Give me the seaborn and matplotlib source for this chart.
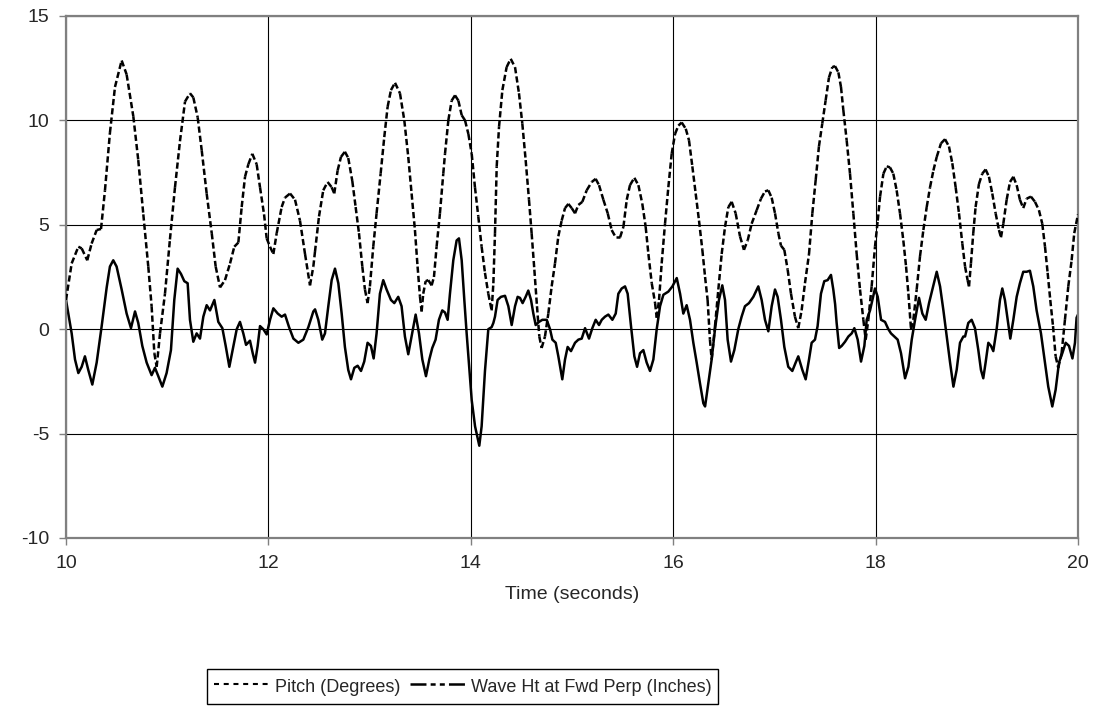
import numpy as np
import matplotlib
matplotlib.use("Agg")
import matplotlib.pyplot as plt
import seaborn as sns
from matplotlib.collections import LineCollection
from matplotlib.lines import Line2D

# ---- data -----------------------------------------------------------------
pitch_time = [
    10.000, 10.056, 10.122, 10.155, 10.210, 10.253, 10.303, 10.346, 10.385, 10.434,
    10.484, 10.550, 10.599, 10.665, 10.714, 10.764, 10.813, 10.846, 10.873, 10.896,
    10.929, 10.978, 11.027, 11.077, 11.126, 11.176, 11.225, 11.258, 11.301, 11.341,
    11.390, 11.440, 11.479, 11.522, 11.571, 11.621, 11.663, 11.703, 11.736, 11.769,
    11.802, 11.841, 11.884, 11.917, 11.957, 11.983, 12.016, 12.049, 12.082, 12.131,
    12.164, 12.214, 12.263, 12.312, 12.362, 12.411, 12.444, 12.460, 12.500, 12.542,
    12.585, 12.625, 12.651, 12.684, 12.717, 12.756, 12.789, 12.829, 12.862, 12.895,
    12.928, 12.954, 12.980, 13.003, 13.036, 13.069, 13.109, 13.145, 13.178, 13.211,
    13.251, 13.300, 13.343, 13.382, 13.415, 13.448, 13.474, 13.498, 13.514, 13.530,
    13.554, 13.580, 13.613, 13.636, 13.662, 13.695, 13.728, 13.745, 13.778, 13.811,
    13.844, 13.877, 13.910, 13.943, 13.976, 14.009, 14.041, 14.074, 14.107, 14.140,
    14.173, 14.206, 14.223, 14.239, 14.256, 14.279, 14.312, 14.354, 14.394, 14.437,
    14.476, 14.509, 14.542, 14.575, 14.601, 14.628, 14.654, 14.677, 14.700, 14.733,
    14.766, 14.799, 14.832, 14.865, 14.898, 14.931, 14.964, 14.997, 15.030, 15.063,
    15.102, 15.145, 15.195, 15.234, 15.267, 15.310, 15.353, 15.392, 15.432, 15.475,
    15.508, 15.541, 15.573, 15.616, 15.656, 15.695, 15.728, 15.755, 15.788, 15.821,
    15.837, 15.860, 15.886, 15.919, 15.952, 15.985, 16.018, 16.051, 16.084, 16.124,
    16.156, 16.189, 16.222, 16.255, 16.288, 16.315, 16.340, 16.363, 16.380, 16.413,
    16.446, 16.479, 16.512, 16.545, 16.578, 16.617, 16.660, 16.699, 16.736, 16.775,
    16.825, 16.867, 16.907, 16.940, 16.973, 17.006, 17.039, 17.065, 17.098, 17.131,
    17.164, 17.203, 17.236, 17.269, 17.302, 17.342, 17.375, 17.408, 17.440, 17.473,
    17.506, 17.539, 17.572, 17.599, 17.632, 17.658, 17.681, 17.714, 17.747, 17.780,
    17.813, 17.846, 17.879, 17.902, 17.928, 17.961, 17.994, 18.021, 18.044, 18.077,
    18.110, 18.142, 18.175, 18.208, 18.241, 18.274, 18.301, 18.324, 18.350, 18.373,
    18.406, 18.439, 18.472, 18.505, 18.538, 18.571, 18.604, 18.646, 18.686, 18.725,
    18.758, 18.791, 18.824, 18.857, 18.884, 18.909, 18.923, 18.942, 18.965, 18.988,
    19.021, 19.054, 19.087, 19.120, 19.153, 19.186, 19.219, 19.239, 19.262, 19.295,
    19.328, 19.361, 19.394, 19.426, 19.459, 19.492, 19.535, 19.575, 19.614, 19.647,
    19.674, 19.700, 19.726, 19.753, 19.779, 19.805, 19.838, 19.871, 19.904, 19.937,
    19.963, 20.000,
]
pitch_deg = [
    1.4, 3.15, 3.95, 3.87, 3.3, 4.1, 4.75, 4.8, 6.65, 9.4,
    11.6, 12.87, 12.2, 10.2, 8.1, 5.5, 3.0, 1.1, -1.15, -1.8,
    -0.2, 1.7, 4.3, 6.8, 9.0, 10.9, 11.3, 11.1, 10.15, 8.57,
    6.5, 4.6, 3.0, 2.0, 2.35, 3.15, 3.95, 4.15, 5.85, 7.3,
    7.9, 8.4, 7.9, 6.8, 5.5, 4.35, 3.95, 3.6, 4.6, 5.85,
    6.3, 6.5, 6.2, 5.2, 3.6, 2.1, 3.0, 3.7, 5.4, 6.65,
    7.05, 6.8, 6.5, 7.6, 8.25, 8.5, 8.2, 7.1, 5.85, 4.6,
    3.0, 1.9, 1.25, 2.05, 3.95, 5.55, 7.45, 9.2, 10.65, 11.45,
    11.8, 11.3, 10.0, 8.25, 6.5, 4.75, 3.0, 1.55, 0.85, 1.7,
    2.3, 2.35, 2.1, 2.5, 3.95, 5.55, 7.45, 8.4, 10.0, 10.95,
    11.2, 10.95, 10.25, 10.0, 9.35, 8.4, 6.8, 5.4, 3.95, 2.7,
    1.7, 0.9, 2.2, 4.6, 7.8, 9.7, 11.45, 12.55, 12.95, 12.55,
    11.3, 9.85, 8.1, 6.2, 4.6, 2.85, 1.1, -0.35, -0.9, -0.35,
    0.75, 2.05, 3.15, 4.45, 5.2, 5.8, 6.0, 5.8, 5.55, 5.95,
    6.1, 6.65, 7.05, 7.2, 6.9, 6.2, 5.55, 4.75, 4.4, 4.4,
    4.9, 6.2, 6.9, 7.25, 6.9, 6.0, 4.9, 3.6, 2.2, 1.25,
    0.55, 1.4, 3.15, 5.05, 6.8, 8.4, 9.35, 9.75, 9.9, 9.6,
    9.05, 7.8, 6.5, 5.2, 3.8, 2.5, 1.4, -0.5, -1.45, 0.15,
    1.9, 3.6, 4.9, 5.85, 6.1, 5.55, 4.45, 3.8, 4.25, 5.05,
    5.7, 6.25, 6.6, 6.65, 6.3, 5.55, 4.6, 4.0, 3.8, 2.85,
    1.7, 0.6, 0.05, 0.9, 2.2, 3.6, 5.55, 7.15, 8.75, 9.85,
    10.95, 12.05, 12.55, 12.6, 12.3, 11.6, 10.5, 9.05, 7.45, 5.55,
    3.6, 1.9, 0.45, -0.5, 0.45, 2.05, 3.95, 5.2, 6.35, 7.45,
    7.8, 7.75, 7.45, 6.65, 5.55, 4.25, 3.0, 1.7, 0.0, 0.45,
    1.9, 3.5, 4.75, 5.85, 6.8, 7.6, 8.25, 8.9, 9.1, 8.75,
    7.95, 6.8, 5.55, 4.1, 3.0, 2.35, 2.05, 3.15, 4.6, 5.85,
    6.95, 7.45, 7.65, 7.3, 6.5, 5.55, 4.75, 4.4, 5.05, 6.2,
    7.05, 7.3, 6.9, 6.2, 5.8, 6.25, 6.35, 6.1, 5.7, 5.05,
    3.95, 2.7, 1.4, 0.15, -1.3, -1.85, -1.15, 0.45, 2.05, 3.3,
    4.6, 5.5,
]

wave_time = [
    10.000, 10.056, 10.089, 10.122, 10.155, 10.187, 10.220, 10.260, 10.303, 10.352,
    10.402, 10.434, 10.467, 10.500, 10.550, 10.599, 10.642, 10.682, 10.714, 10.754,
    10.797, 10.846, 10.879, 10.912, 10.952, 10.994, 11.037, 11.070, 11.103, 11.136,
    11.169, 11.202, 11.225, 11.258, 11.291, 11.324, 11.357, 11.390, 11.423, 11.466,
    11.505, 11.545, 11.578, 11.614, 11.654, 11.687, 11.719, 11.752, 11.779, 11.818,
    11.845, 11.868, 11.894, 11.917, 11.950, 11.983, 12.016, 12.049, 12.092, 12.131,
    12.164, 12.204, 12.247, 12.296, 12.345, 12.395, 12.444, 12.461, 12.493, 12.532,
    12.559, 12.592, 12.625, 12.658, 12.691, 12.724, 12.756, 12.789, 12.816, 12.849,
    12.882, 12.915, 12.947, 12.980, 13.013, 13.040, 13.069, 13.102, 13.135, 13.168,
    13.211, 13.244, 13.283, 13.316, 13.349, 13.382, 13.415, 13.455, 13.488, 13.521,
    13.557, 13.590, 13.619, 13.652, 13.685, 13.718, 13.745, 13.771, 13.794, 13.827,
    13.860, 13.883, 13.910, 13.936, 13.959, 14.009, 14.042, 14.084, 14.107, 14.140,
    14.173, 14.206, 14.223, 14.239, 14.265, 14.298, 14.338, 14.371, 14.404, 14.437,
    14.463, 14.486, 14.512, 14.542, 14.568, 14.595, 14.618, 14.641, 14.674, 14.707,
    14.750, 14.783, 14.806, 14.839, 14.865, 14.904, 14.931, 14.957, 14.990, 15.030,
    15.063, 15.096, 15.129, 15.168, 15.201, 15.234, 15.267, 15.294, 15.326, 15.359,
    15.399, 15.432, 15.458, 15.491, 15.524, 15.550, 15.583, 15.616, 15.643, 15.672,
    15.705, 15.738, 15.771, 15.804, 15.837, 15.870, 15.903, 15.952, 15.992, 16.035,
    16.068, 16.100, 16.133, 16.166, 16.199, 16.232, 16.265, 16.298, 16.315, 16.347,
    16.380, 16.413, 16.452, 16.485, 16.512, 16.538, 16.571, 16.604, 16.643, 16.676,
    16.709, 16.749, 16.792, 16.841, 16.874, 16.907, 16.940, 16.973, 17.006, 17.032,
    17.065, 17.098, 17.137, 17.177, 17.210, 17.236, 17.276, 17.309, 17.342, 17.368,
    17.401, 17.427, 17.460, 17.493, 17.526, 17.559, 17.582, 17.600, 17.615, 17.640,
    17.665, 17.698, 17.731, 17.764, 17.790, 17.823, 17.856, 17.889, 17.912, 17.945,
    17.968, 17.994, 18.021, 18.054, 18.093, 18.126, 18.152, 18.185, 18.218, 18.251,
    18.291, 18.324, 18.357, 18.390, 18.429, 18.462, 18.495, 18.528, 18.561, 18.604,
    18.637, 18.670, 18.703, 18.736, 18.769, 18.801, 18.834, 18.867, 18.884, 18.916,
    18.949, 18.982, 19.015, 19.041, 19.064, 19.087, 19.114, 19.140, 19.163, 19.196,
    19.229, 19.252, 19.278, 19.305, 19.331, 19.361, 19.394, 19.426, 19.459, 19.492,
    19.525, 19.558, 19.591, 19.634, 19.674, 19.706, 19.746, 19.779, 19.812, 19.845,
    19.878, 19.911, 19.945, 19.970, 19.986, 20.000,
]
wave_in = [
    1.4, -0.2, -1.45, -2.1, -1.8, -1.3, -1.95, -2.65, -1.6, 0.13,
    2.0, 3.0, 3.3, 3.0, 1.9, 0.75, 0.05, 0.85, 0.3, -0.8,
    -1.6, -2.2, -1.85, -2.25, -2.75, -2.1, -1.0, 1.4, 2.9, 2.65,
    2.3, 2.2, 0.45, -0.6, -0.2, -0.45, 0.6, 1.15, 0.9, 1.4,
    0.35, 0.05, -0.8, -1.8, -0.8, 0.0, 0.35, -0.2, -0.75, -0.55,
    -1.15, -1.6, -0.8, 0.15, 0.0, -0.25, 0.45, 1.0, 0.75, 0.6,
    0.7, 0.1, -0.45, -0.65, -0.5, 0.1, 0.85, 0.95, 0.45, -0.5,
    -0.2, 1.1, 2.35, 2.9, 2.2, 0.75, -0.85, -1.95, -2.4, -1.85,
    -1.75, -2.0, -1.55, -0.65, -0.8, -1.4, -0.2, 1.7, 2.35, 1.9,
    1.4, 1.25, 1.55, 1.1, -0.35, -1.2, -0.35, 0.7, -0.2, -1.45,
    -2.25, -1.45, -0.9, -0.5, 0.45, 0.9, 0.8, 0.45, 1.7, 3.3,
    4.25, 4.35, 3.3, 1.4, -0.2, -3.4, -4.65, -5.58, -4.65, -2.0,
    0.0, 0.1, 0.3, 0.6, 1.4, 1.55, 1.6, 1.1, 0.2, 1.1,
    1.55, 1.5, 1.25, 1.55, 1.85, 1.4, 0.75, 0.2, 0.35, 0.45,
    0.45, 0.0, -0.5, -0.65, -1.3, -2.4, -1.45, -0.85, -1.05, -0.65,
    -0.5, -0.45, 0.05, -0.45, 0.05, 0.45, 0.2, 0.45, 0.6, 0.7,
    0.45, 0.75, 1.7, 1.95, 2.05, 1.7, 0.15, -1.3, -1.8, -1.15,
    -1.0, -1.6, -2.0, -1.45, 0.0, 1.1, 1.65, 1.8, 2.05, 2.45,
    1.7, 0.75, 1.15, 0.45, -0.65, -1.6, -2.6, -3.55, -3.7, -2.6,
    -1.45, 0.0, 1.4, 2.1, 1.4, -0.5, -1.55, -1.0, 0.0, 0.6,
    1.1, 1.25, 1.55, 2.05, 1.4, 0.45, -0.1, 1.1, 1.9, 1.55,
    0.45, -0.85, -1.8, -2.0, -1.6, -1.3, -1.95, -2.4, -1.45, -0.65,
    -0.5, 0.15, 1.7, 2.3, 2.35, 2.6, 1.9, 1.2, 0.3, -0.9,
    -0.8, -0.6, -0.35, -0.2, 0.05, -0.5, -1.55, -0.8, 0.45, 0.9,
    1.4, 1.95, 1.55, 0.45, 0.35, 0.0, -0.2, -0.35, -0.5, -1.15,
    -2.35, -1.8, -0.5, 0.45, 1.5, 0.75, 0.45, 1.25, 1.9, 2.75,
    2.05, 0.9, -0.35, -1.6, -2.75, -1.95, -0.65, -0.35, -0.35, 0.3,
    0.45, 0.05, -1.0, -1.95, -2.35, -1.6, -0.65, -0.8, -1.05, 0.0,
    1.4, 1.95, 1.4, 0.45, -0.45, 0.45, 1.55, 2.2, 2.75, 2.75,
    2.8, 2.05, 0.9, -0.2, -1.6, -2.75, -3.7, -2.9, -1.6, -1.15,
    -0.65, -0.8, -1.4, -0.65, 0.55, 0.7,
]

x_ticks = [10, 12, 14, 16, 18, 20]
y_ticks = [-10, -5, 0, 5, 10, 15]
series_labels = ["Pitch (Degrees)", "Wave Ht at Fwd Perp (Inches)"]
x_label = "Time (seconds)"

# ---- style ----------------------------------------------------------------
sns.set_theme(style="white")
plt.rcParams["font.family"] = ["Liberation Sans", "DejaVu Sans"]
plt.rcParams["lines.scale_dashes"] = False

W, H = 1095, 708
fig = plt.figure(figsize=(W / 100, H / 100), dpi=100)
fig.patch.set_facecolor("white")
ax = fig.add_axes([66 / W, 1 - 538 / H, (1078 - 66) / W, (538 - 16) / H])

LW = 1.8
TICK_FS = 14
LEG_FS = 13

# wave height trace
sns.lineplot(x=wave_time, y=wave_in, ax=ax, color="black", lw=LW,
             estimator=None, sort=False)

# pitch trace: dash pattern restarts on every segment, so short
# segments render solid and long steep ones render dashed
sns.lineplot(x=pitch_time, y=pitch_deg, ax=ax, color="black", lw=LW,
             estimator=None, sort=False)
pitch_line = ax.lines[-1]
xy = pitch_line.get_xydata()
segs = np.stack([xy[:-1], xy[1:]], axis=1)
pitch_line.remove()
ax.add_collection(LineCollection(segs, colors="black", linewidths=LW,
                                 linestyles=[(0, (4.5, 2.2))],
                                 capstyle="butt", zorder=3))

ax.set_xlim(10, 20)
ax.set_ylim(-10, 15)
ax.set_xticks(x_ticks)
ax.set_yticks(y_ticks)
ax.set_xticklabels([str(v) for v in x_ticks])
ax.set_yticklabels([str(v) for v in y_ticks])

ax.set_axisbelow(True)
ax.grid(True, color="black", lw=0.8)
for s in ax.spines.values():
    s.set_color("#808080")
    s.set_linewidth(1.6)

ax.tick_params(axis="y", direction="out", length=5, width=1, color="#808080",
               labelsize=TICK_FS, pad=7, left=True)
ax.tick_params(axis="x", direction="out", length=5, width=1, color="#808080",
               labelsize=TICK_FS, pad=7, bottom=True)
ax.set_xlabel(x_label, fontsize=TICK_FS, labelpad=10)
ax.set_ylabel("")

handles = [
    Line2D([], [], color="black", lw=1.5, linestyle=(0, (3.6, 3.4))),
    Line2D([], [], color="black", lw=1.8,
           linestyle=(0, (11.5, 3.0, 3.6, 3.0, 3.6, 3.0))),
]
leg = fig.legend(handles, series_labels, loc="center",
                 bbox_to_anchor=(462.5 / W, 1 - 686.5 / H), ncol=2,
                 frameon=True, fancybox=False, edgecolor="black",
                 fontsize=LEG_FS, handlelength=3.15, handletextpad=0.22,
                 handleheight=1.45, columnspacing=0.55, borderpad=0.35,
                 borderaxespad=0)
leg.get_frame().set_linewidth(1.0)
leg.get_frame().set_alpha(None)

fig.savefig("out.png", dpi=100, facecolor="white")
